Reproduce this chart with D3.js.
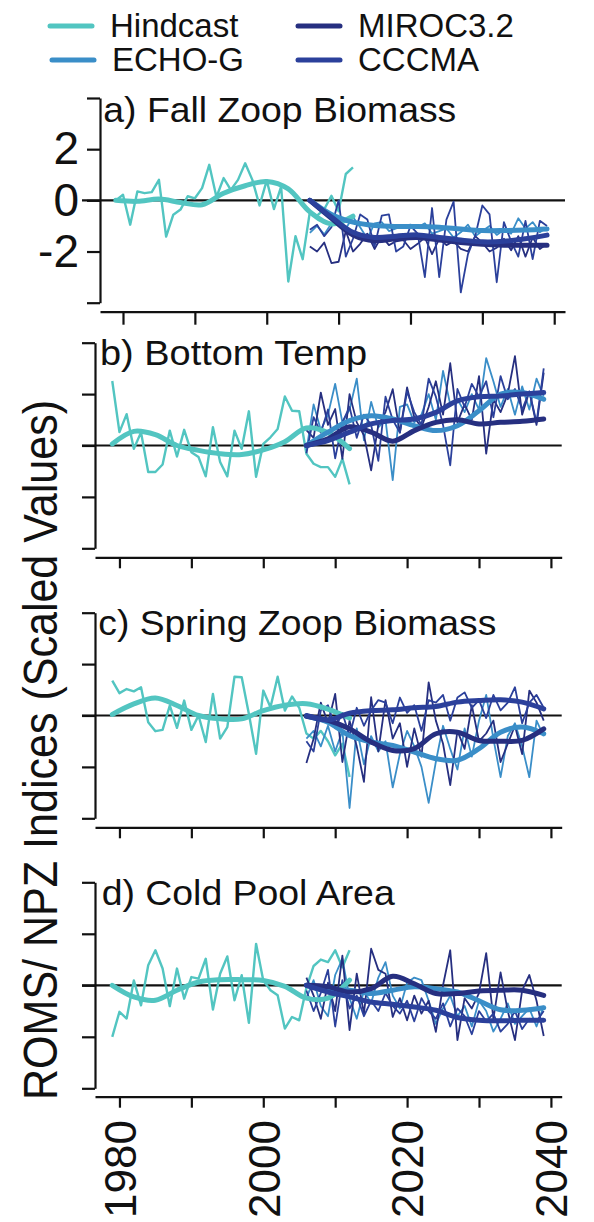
<!DOCTYPE html>
<html>
<head>
<meta charset="utf-8">
<script src="https://cdn.jsdelivr.net/npm/d3@7"></script>
<style>
  body { margin: 0; background: #fff; }
  svg { display: block; }
  text { font-family: "Liberation Sans", Arial, Helvetica, sans-serif; fill: #111; }
</style>
</head>
<body>
<svg id="chart" width="594" height="1222"></svg>
<script>
// ---- series names / colours ----
const seriesNames = ["Hindcast", "ECHO-G", "MIROC3.2", "CCCMA"];
const seriesColors = ["#52c5c1", "#3a8ec8", "#262f80", "#2b409b"];

// ---- years ----
const hindYears = d3.range(1979, 2013);       // raw hindcast
const projYears = d3.range(2006, 2040);       // raw projections
const hindSmYears = d3.range(1979, 2013, 3);  // smooth knots
const projSmYears = d3.range(2006, 2040, 3);

const yTicks = [-4, -2, 0, 2, 4];
const xTicks = [1980, 1990, 2000, 2010, 2020, 2030, 2040];
const xTickLabels = [1980, 2000, 2020, 2040];

const panelTitles = ["a) Fall Zoop Biomass", "b) Bottom Temp", "c) Spring Zoop Biomass", "d) Cold Pool Area"];

// ---- a) Fall Zoop Biomass ----
const hindA = [0.0,0.22,-0.95,0.35,0.28,0.32,0.8,-1.42,-0.56,-0.36,0.16,0.08,0.48,1.39,0.13,0.87,0.41,0.8,1.45,0.8,-0.2,0.78,-0.34,0.54,-3.17,-1.4,-2.3,-0.45,-0.6,-0.35,0.18,-0.43,1.03,1.29];
const echoA = [-1.27,-1.0,-1.33,-0.9,-0.75,-1.1,-0.65,-1.05,-1.5,-0.9,-0.85,-1.2,-1.1,-1.0,-0.95,-1.05,-0.9,-1.3,-1.2,-1.1,-1.45,-1.25,-0.95,-1.4,-1.2,-1.0,-1.35,-1.15,-1.3,-0.7,-1.1,-0.85,-1.25,-1.05];
const mirocA = [-1.8,-2.0,-1.65,-2.45,-2.4,-1.2,-2.0,-1.7,-1.3,-1.9,-1.4,-1.75,-1.6,-1.55,-1.9,-1.7,-1.45,-2.1,-1.5,-1.75,-1.6,-1.9,-2.0,-1.4,-1.65,-2.0,-1.85,-1.5,-1.95,-1.4,-2.2,-1.45,-1.9,-1.7];
const cccmaA = [-1.15,-0.95,-1.4,-1.05,0.0,-2.2,-1.5,-0.55,-0.75,-1.8,-0.6,-0.55,-2.0,-1.8,-1.0,-1.3,-3.0,-0.3,-3.0,-0.75,-0.05,-3.6,-2.1,-1.4,-0.2,-0.55,-3.2,-0.85,-1.6,-2.2,-0.8,-2.3,-0.8,-1.0];
const hindSmA = [0,-0.04,0.05,-0.08,-0.17,0.28,0.57,0.74,0.45,-0.45,-0.92,-0.62];
const echoSmA = [0,-0.55,-0.85,-0.98,-1.02,-1.02,-1.05,-1.12,-1.18,-1.18,-1.16,-1.12];
const mirocSmA = [0,-0.7,-1.35,-1.58,-1.5,-1.45,-1.55,-1.65,-1.72,-1.75,-1.75,-1.75];
const cccmaSmA = [0,-0.65,-1.25,-1.45,-1.4,-1.35,-1.45,-1.55,-1.62,-1.6,-1.5,-1.36];

// ---- b) Bottom Temp ----
const hindB = [2.51,0.52,1.22,-0.13,0.51,-1.03,-1.03,-0.74,0.58,-0.43,0.61,-0.26,-0.45,-1.2,0.71,-0.64,-1.2,0.58,-0.13,1.33,-1.22,0.06,0.32,0.64,1.91,1.35,1.33,-0.32,-0.71,-0.84,-0.84,-1.22,-0.52,-1.51];
const echoB = [-0.2,1.6,0.6,1.2,2.4,0.9,1.4,2.6,0.2,1.7,0.7,1.0,-1.35,1.5,1.6,0.9,1.2,2.0,1.0,2.9,1.6,1.8,1.3,2.0,1.4,3.4,2.5,1.5,2.2,1.2,2.3,1.4,2.6,1.9];
const mirocB = [0.6,0.3,2.06,0.8,1.42,-0.52,2.0,0.9,0.4,-0.97,0.8,1.3,2.19,0.5,2.26,1.1,0.7,1.5,2.5,1.2,3.2,0.9,1.6,1.0,2.7,-0.32,1.8,1.3,2.0,3.48,1.2,2.1,0.8,2.84];
const cccmaB = [-0.3,1.1,0.5,1.4,-0.5,0.9,1.5,0.3,1.2,0.8,-0.6,1.9,1.0,0.5,2.1,1.3,0.8,2.6,1.9,0.8,-0.77,2.2,1.5,2.4,1.9,2.5,1.1,2.7,1.8,2.2,1.4,2.1,0.9,3.0];
const hindSmB = [0.06,0.55,0.42,0.0,-0.19,-0.32,-0.35,-0.17,0.15,0.68,0.5,-0.12];
const echoSmB = [0,0.52,0.97,1.16,1.03,0.77,0.58,0.77,1.35,2.0,2.06,1.8];
const mirocSmB = [0,0.26,0.73,0.52,0.17,0.58,0.9,1.0,0.84,0.9,0.94,1.03];
const cccmaSmB = [0,0.19,0.52,0.84,0.97,1.03,1.29,1.74,1.9,1.93,2.0,2.06];

// ---- c) Spring Zoop Biomass ----
const hindC = [1.36,0.87,1.03,0.94,1.1,-0.26,-0.61,-0.56,0.39,-0.48,0.58,-0.56,0.0,-1.03,0.84,-0.9,-0.45,1.51,1.49,0.06,-1.49,0.97,0.32,1.51,0.19,0.74,0.3,-0.7,-0.9,-0.6,-1.0,-1.55,-1.1,-2.39];
const echoC = [-0.9,-0.6,-1.2,-0.4,-1.4,-0.6,-3.6,-0.5,-1.9,-0.8,-1.4,-1.0,-2.8,-1.5,-0.6,-1.2,-2.0,-3.4,-1.8,-0.4,-1.3,-2.1,-0.5,-1.6,-0.2,0.8,-0.9,-2.4,-0.8,-0.3,-1.2,-2.4,-0.2,-0.8];
const mirocC = [-1.85,-0.9,0.5,-0.3,0.84,-1.81,-0.2,-1.2,-2.58,0.71,-1.4,0.6,-0.9,-0.3,-2.0,-0.5,-1.6,1.29,-0.2,-1.1,-2.71,-0.6,-1.3,0.4,-1.0,-0.7,-0.2,-1.81,-1.1,-0.4,-1.5,0.97,0.5,-0.2];
const cccmaC = [-1.0,-1.4,0.2,0.4,-0.5,0.1,-0.8,0.3,-0.4,0.2,0.6,0.5,-0.3,0.7,0.1,0.4,-0.6,0.6,0.5,0.8,-0.2,0.7,0.9,0.3,0.6,-0.1,0.8,0.2,0.5,1.1,-0.3,0.5,0.8,0.3];
const hindSmC = [0.04,0.45,0.68,0.39,0.0,-0.13,-0.13,0.19,0.4,0.46,0.25,-0.1];
const echoSmC = [-0.03,-0.26,-0.78,-1.03,-1.16,-1.42,-1.68,-1.74,-1.29,-0.65,-0.45,-0.71];
const mirocSmC = [-0.03,-0.19,-0.52,-1.03,-1.36,-1.29,-0.71,-0.65,-0.97,-1.0,-0.97,-0.52];
const cccmaSmC = [0,-0.17,0.09,0.19,0.22,0.3,0.35,0.52,0.58,0.61,0.52,0.26];

// ---- d) Cold Pool Area ----
const hindD = [-2.0,-1.03,-1.29,0.19,-0.78,0.78,1.36,0.65,-0.81,0.65,-0.52,0.32,0.26,1.03,-0.94,0.45,1.12,-0.58,0.39,-1.46,1.61,0.19,-0.19,-0.39,-1.68,-1.23,-1.36,-0.1,0.75,1.0,0.9,1.36,0.7,1.36];
const echoD = [-0.5,0.2,-0.8,-1.2,0.4,1.03,-0.5,-1.3,-0.2,-0.7,0.3,0.9,-0.4,-0.9,0.1,0.3,0.2,-0.6,-1.5,-0.9,-0.4,-1.2,-0.8,-1.6,-0.6,-1.0,-1.8,-1.3,-0.7,-1.5,-1.2,-0.9,-1.6,-0.8];
const mirocD = [0.3,-0.4,-1.3,0.1,-1.0,1.15,-1.74,0.45,-1.1,1.42,0.6,0.45,-1.23,-0.5,-1.36,-0.4,-1.1,-0.6,-1.81,0.0,1.36,-2.13,-0.5,-0.9,-0.3,1.25,-1.3,0.5,-1.0,-2.13,-0.2,0.4,-0.6,-1.97];
const cccmaD = [-0.2,-1.0,-0.3,0.6,-1.6,0.2,-0.9,-0.4,-1.2,-0.6,-1.0,-0.3,-0.8,-1.1,-0.6,-1.4,-0.5,-1.0,-1.3,-0.7,-1.6,-0.9,-1.2,-1.9,-1.0,-1.4,-1.1,-1.8,-1.5,-1.0,-1.7,-1.3,-1.4,-1.0];
const hindSmD = [0,-0.45,-0.58,-0.19,0.13,0.22,0.22,0.19,-0.04,-0.5,-0.5,0.2];
const echoSmD = [0,-0.19,-0.19,-0.32,-0.19,-0.06,-0.13,-0.26,-0.6,-0.95,-0.97,-0.87];
const mirocSmD = [0,-0.06,-0.26,-0.13,0.35,0.06,-0.32,-0.32,-0.22,-0.19,-0.19,-0.39];
const cccmaSmD = [0,-0.26,-0.45,-0.65,-0.74,-0.84,-0.97,-1.25,-1.36,-1.38,-1.36,-1.36];

const panelData = [
  { raw: [hindA, echoA, mirocA, cccmaA], smooth: [hindSmA, echoSmA, mirocSmA, cccmaSmA] },
  { raw: [hindB, echoB, mirocB, cccmaB], smooth: [hindSmB, echoSmB, mirocSmB, cccmaSmB] },
  { raw: [hindC, echoC, mirocC, cccmaC], smooth: [hindSmC, echoSmC, mirocSmC, cccmaSmC] },
  { raw: [hindD, echoD, mirocD, cccmaD], smooth: [hindSmD, echoSmD, mirocSmD, cccmaSmD] }
];

// layout of the four stacked panels (px)
const layout = [
  { left: 100, right: 565,   top: 98,    bottom: 302.7,  xAxisY: 311.7,  xTick: 13, xDomain: [1976.8, 2041.5], title: [103.3, 121.7], titleLen: 353 },
  { left: 95,  right: 561.7, top: 342.7, bottom: 548.3,  xAxisY: 557.3,  xTick: 11, xDomain: [1976.6, 2041.5], title: [100, 365],     titleLen: 267 },
  { left: 95,  right: 561.7, top: 612.7, bottom: 818.3,  xAxisY: 827.3,  xTick: 11, xDomain: [1976.6, 2041.5], title: [98.3, 635],    titleLen: 398 },
  { left: 95,  right: 561.7, top: 882.3, bottom: 1088.3, xAxisY: 1096.7, xTick: 11, xDomain: [1976.6, 2041.5], title: [101.7, 905],   titleLen: 293 }
];

const svg = d3.select("#chart");

function styleAxis(g) {
  g.selectAll("path, line").attr("stroke", "#111").attr("stroke-width", 2.2);
}

function drawPanel(svg, p, d, idx) {
  const x = d3.scaleLinear().domain(p.xDomain).range([p.left, p.right]);
  const y = d3.scaleLinear().domain([-4, 4]).range([p.bottom, p.top]);
  const g = svg.append("g").attr("class", "panel-" + idx);

  // y axis (labels only on top panel)
  const yAxis = d3.axisLeft(y)
    .tickValues(yTicks)
    .tickSize(13)
    .tickSizeOuter(0)
    .tickPadding(8)
    .tickFormat(v => (idx === 0 && Math.abs(v) < 3) ? (v < 0 ? "-" + Math.abs(v) : String(v)) : "");
  g.append("g")
    .attr("transform", `translate(${p.left},0)`)
    .call(yAxis)
    .call(styleAxis)
    .call(a => a.selectAll("text").attr("font-size", 46).attr("fill", "#111"));

  // x axis
  const xAxis = d3.axisBottom(x)
    .tickValues(xTicks)
    .tickSize(p.xTick)
    .tickSizeOuter(0)
    .tickFormat(v => (idx === 3 && xTickLabels.includes(v)) ? String(v) : "");
  g.append("g")
    .attr("transform", `translate(0,${p.xAxisY})`)
    .call(xAxis)
    .call(styleAxis)
    .call(a => a.selectAll("text")
      .attr("font-size", 44)
      .attr("fill", "#111")
      .attr("transform", "rotate(-90)")
      .attr("x", -(1120 - p.xAxisY))
      .attr("y", 0)
      .attr("dy", "0.36em")
      .attr("text-anchor", "end"));

  // zero line
  g.append("line")
    .attr("x1", 82).attr("x2", p.right)
    .attr("y1", y(0)).attr("y2", y(0))
    .attr("stroke", "#111").attr("stroke-width", 2.2);

  // thin raw series
  d.raw.forEach((vals, i) => {
    const yrs = i === 0 ? hindYears : projYears;
    const line = d3.line().x((v, j) => x(yrs[j])).y(v => y(v));
    g.append("path")
      .datum(vals)
      .attr("d", line)
      .attr("fill", "none")
      .attr("stroke", seriesColors[i])
      .attr("stroke-width", i === 0 ? 2.4 : 1.8)
      .attr("stroke-linejoin", "round");
  });

  // thick smoothed series
  d.smooth.forEach((vals, i) => {
    const yrs = i === 0 ? hindSmYears : projSmYears;
    const line = d3.line().x((v, j) => x(yrs[j])).y(v => y(v)).curve(d3.curveCatmullRom.alpha(0.5));
    g.append("path")
      .datum(vals)
      .attr("d", line)
      .attr("fill", "none")
      .attr("stroke", seriesColors[i])
      .attr("stroke-width", 5)
      .attr("stroke-linecap", "round");
  });

  // panel title
  g.append("text")
    .attr("x", p.title[0]).attr("y", p.title[1])
    .attr("font-size", 35)
    .attr("textLength", p.titleLen)
    .attr("lengthAdjust", "spacingAndGlyphs")
    .text(panelTitles[idx]);
}

layout.forEach((p, i) => drawPanel(svg, p, panelData[i], i));

// legend
const legendPos = [[50, 26], [52, 60], [298, 26], [298, 60]];
const legend = svg.append("g").attr("class", "legend");
seriesNames.forEach((name, i) => {
  const [lx, ly] = legendPos[i];
  legend.append("line")
    .attr("x1", lx).attr("x2", lx + 42)
    .attr("y1", ly).attr("y2", ly)
    .attr("stroke", seriesColors[i])
    .attr("stroke-width", 5)
    .attr("stroke-linecap", "round");
  legend.append("text")
    .attr("x", lx + 60).attr("y", ly + 11)
    .attr("font-size", 33)
    .text(name);
});

// y axis title
svg.append("text")
  .attr("transform", "translate(57,750) rotate(-90)")
  .attr("text-anchor", "middle")
  .attr("font-size", 48)
  .attr("textLength", 700)
  .attr("lengthAdjust", "spacingAndGlyphs")
  .text("ROMS/ NPZ Indices (Scaled Values)");
</script>
</body>
</html>
